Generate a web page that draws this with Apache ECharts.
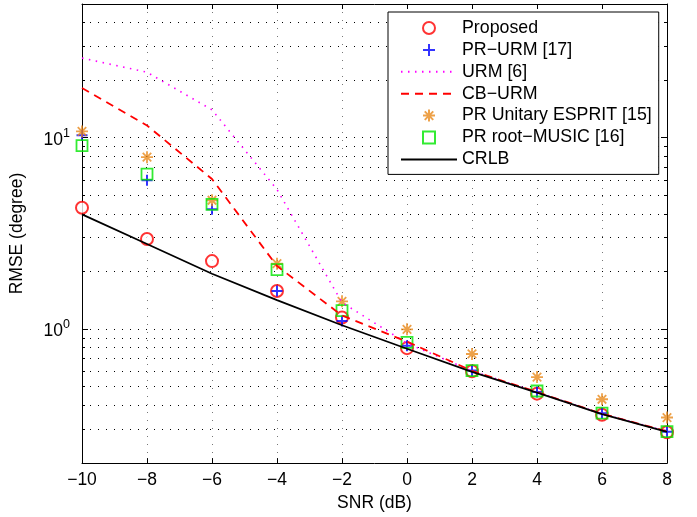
<!DOCTYPE html>
<html><head><meta charset="utf-8">
<script src="https://cdn.jsdelivr.net/npm/echarts@6/dist/echarts.min.js"></script>
<style>html,body{margin:0;padding:0;background:#fff}#c{width:697px;height:517px}</style>
</head><body><div id="c"></div>
<script>
// ---- data ----
const snr = [-10, -8, -6, -4, -2, 0, 2, 4, 6, 8];
const proposed    = [4.31, 2.96, 2.27, 1.585, 1.153, 0.797, 0.604, 0.461, 0.358, 0.290];
const prUrm       = [10.3, 6.0, 4.23, 1.585, 1.104, 0.820, 0.610, 0.470, 0.364, 0.292];
const urm         = [26.1, 22.0, 14.0, 5.37, 1.38, 0.845, 0.606, 0.469, 0.362, 0.293];
const cbUrm       = [18.2, 11.6, 6.09, 2.14, 1.18, 0.862, 0.607, 0.470, 0.362, 0.293];
const prEsprit    = [10.8, 7.92, 4.72, 2.20, 1.40, 1.00, 0.743, 0.563, 0.431, 0.346];
const prRootMusic = [9.1, 6.47, 4.49, 2.05, 1.25, 0.854, 0.608, 0.476, 0.365, 0.292];
const crlb        = [3.98, 2.79, 1.95, 1.42, 1.05, 0.791, 0.599, 0.467, 0.360, 0.291];
const seriesNames = ['Proposed', 'PR\u2212URM [17]', 'URM [6]', 'CB\u2212URM',
                     'PR Unitary ESPRIT [15]', 'PR root\u2212MUSIC [16]', 'CRLB'];
const yMajorTicks = [1, 10];
const yMinorTicks = [0.3, 0.4, 0.5, 0.6, 0.7, 0.8, 0.9, 2, 3, 4, 5, 6, 7, 8, 9, 20, 30, 40];
const xMin = -10, xMax = 8, xStep = 2, yMin = 0.2, yMax = 50;

const FONT = '"Liberation Sans", Arial, Helvetica, sans-serif';
const FS = 17.5;
const pairs = (ys) => snr.map((x, i) => [x, ys[i]]);
const plusPath = 'path://M0,-5L0,5M-5,0L5,0';
const starPath = 'path://M0,-5L0,5M-5,0L5,0M-3.54,-3.54L3.54,3.54M-3.54,3.54L3.54,-3.54';
const squarePath = 'path://M-5,-5L5,-5L5,5L-5,5Z';
const fmtX = (v) => (v < 0 ? '\u2212' + Math.abs(v) : String(v));

const gridTicks = yMajorTicks.map(v => [xMin, v, 1]).concat(yMinorTicks.map(v => [xMin, v, 0]));

const legendIcons = ['emptyCircle', plusPath, null, null, starPath, squarePath, null];

const chart = echarts.init(document.getElementById('c'), null, {renderer: 'canvas'});
chart.setOption({
  animation: false,
  backgroundColor: '#fff',
  textStyle: {fontFamily: FONT, color: '#000'},
  grid: {left: 79, right: 30, top: 4, bottom: 51, containLabel: false},
  legend: {
    orient: 'vertical', left: 388, top: 12,
    padding: [7, 7, 6, 12],
    backgroundColor: '#fff', borderColor: '#000', borderWidth: 1,
    itemWidth: 56, itemHeight: 12, itemGap: 3.9,
    symbolKeepAspect: true,
    textStyle: {fontFamily: FONT, fontSize: 17.8, color: '#000'},
    data: seriesNames.map((n, i) => legendIcons[i]
      ? {name: n, icon: legendIcons[i]}
      : {name: n, itemStyle: {opacity: 0}}),
    selectedMode: false
  },
  xAxis: [{
    type: 'value', min: xMin, max: xMax, interval: xStep, position: 'bottom',
    axisLine: {show: true, onZero: false, lineStyle: {color: '#000', width: 1}},
    axisTick: {show: true, inside: true, length: 5, lineStyle: {color: '#000'}},
    axisLabel: {show: true, margin: 8, fontSize: FS, color: '#000', fontFamily: FONT, formatter: fmtX},
    splitLine: {show: true, lineStyle: {color: '#777', width: 1, type: [1, 7]}},
    name: 'SNR (dB)', nameLocation: 'middle', nameGap: 29,
    nameTextStyle: {fontSize: FS, color: '#000', fontFamily: FONT}
  }, {
    type: 'value', min: xMin, max: xMax, interval: xStep, position: 'top',
    axisLine: {show: true, onZero: false, lineStyle: {color: '#000', width: 1}},
    axisTick: {show: true, inside: true, length: 5, lineStyle: {color: '#000'}},
    axisLabel: {show: false}, splitLine: {show: false}
  }],
  yAxis: [{
    type: 'log', logBase: 10, min: yMin, max: yMax, position: 'left',
    axisLine: {show: true, onZero: false, lineStyle: {color: '#000', width: 1}},
    axisTick: {show: false}, splitLine: {show: false},
    axisLabel: {
      show: true, margin: 12, color: '#000', fontFamily: FONT,
      formatter: (v) => {
        if (Math.abs(v - 1) < 1e-9) return '{b|10}{s|0}';
        if (Math.abs(v - 10) < 1e-9) return '{b|10}{s|1}';
        return '';
      },
      rich: {
        b: {fontSize: FS, lineHeight: 22, verticalAlign: 'bottom', fontFamily: FONT, color: '#000'},
        s: {fontSize: 12.5, lineHeight: 12, verticalAlign: 'top', fontFamily: FONT, color: '#000'}
      }
    },
    name: 'RMSE (degree)', nameLocation: 'middle', nameGap: 56, nameRotate: 90,
    nameTextStyle: {fontSize: FS, color: '#000', fontFamily: FONT}
  }, {
    type: 'log', logBase: 10, min: yMin, max: yMax, position: 'right',
    axisLine: {show: true, onZero: false, lineStyle: {color: '#000', width: 1}},
    axisTick: {show: false}, axisLabel: {show: false}, splitLine: {show: false}
  }],
  series: [
    {
      type: 'custom', name: '_grid', silent: true, z: 1,
      xAxisIndex: 0, yAxisIndex: 0, clip: false,
      data: gridTicks,
      renderItem: (params, api) => {
        const v = api.value(1);
        const major = api.value(2) === 1;
        const l = api.coord([xMin, v]);
        const r = api.coord([xMax, v]);
        const y = Math.round(l[1] - 0.5) + 0.5;
        const len = major ? 6 : 3;
        return {type: 'group', children: [
          {type: 'line', shape: {x1: l[0], y1: y, x2: r[0], y2: y},
           style: {stroke: '#000', lineWidth: 1, lineDash: [1, 7]}},
          {type: 'line', shape: {x1: l[0], y1: y, x2: l[0] + len, y2: y},
           style: {stroke: '#000', lineWidth: 1}},
          {type: 'line', shape: {x1: r[0] - len, y1: y, x2: r[0], y2: y},
           style: {stroke: '#000', lineWidth: 1}}
        ]};
      }
    },
    {
      type: 'scatter', name: seriesNames[0], data: pairs(proposed),
      symbol: 'emptyCircle', symbolSize: 12,
      itemStyle: {color: '#ff0000', borderColor: '#ff0000', borderWidth: 1.6}
    },
    {
      type: 'scatter', name: seriesNames[1], data: pairs(prUrm),
      symbol: plusPath, symbolSize: 11,
      itemStyle: {color: '#0000ff', borderColor: '#0000ff', borderWidth: 2}
    },
    {
      type: 'line', name: seriesNames[2], data: pairs(urm),
      symbol: 'none', showSymbol: false,
      lineStyle: {color: '#ff00ff', width: 1.6, type: [1.5, 5.5]},
      itemStyle: {color: '#ff00ff'}
    },
    {
      type: 'line', name: seriesNames[3], data: pairs(cbUrm),
      symbol: 'none', showSymbol: false,
      lineStyle: {color: '#ff0000', width: 1.8, type: [8, 6]},
      itemStyle: {color: '#ff0000'}
    },
    {
      type: 'scatter', name: seriesNames[4], data: pairs(prEsprit),
      symbol: starPath, symbolSize: 12,
      itemStyle: {color: '#e8891c', borderColor: '#e8891c', borderWidth: 1.8}
    },
    {
      type: 'scatter', name: seriesNames[5], data: pairs(prRootMusic),
      symbol: squarePath, symbolSize: 11,
      itemStyle: {color: 'rgba(0,0,0,0)', borderColor: '#00e600', borderWidth: 1.8}
    },
    {
      type: 'line', name: seriesNames[6], data: pairs(crlb),
      symbol: 'none', showSymbol: false,
      lineStyle: {color: '#000', width: 1.8, type: 'solid'},
      itemStyle: {color: '#000'}
    }
  ]
});
</script>
</body></html>
